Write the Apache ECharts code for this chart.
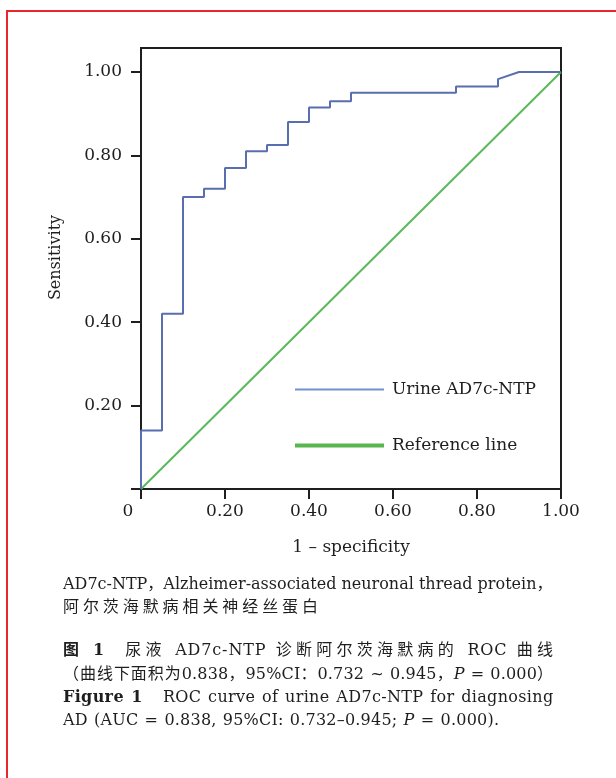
<!DOCTYPE html>
<html>
<head>
<meta charset="utf-8">
<script src="https://cdn.jsdelivr.net/npm/echarts@6/dist/echarts.min.js"></script>
<style>
html,body{margin:0;padding:0;background:#fff;}
#c{width:616px;height:778px;}
</style>
</head>
<body>
<div id="c"></div>
<script>
// ROC curve points (1 - specificity, sensitivity)
const rocX = [0, 0, 0.05, 0.05, 0.10, 0.10, 0.15, 0.15, 0.20, 0.20, 0.25, 0.25, 0.30, 0.30, 0.35, 0.35, 0.40, 0.40, 0.45, 0.45, 0.50, 0.50, 0.75, 0.75, 0.85, 0.85, 0.90, 1.00];
const rocY = [0, 0.14, 0.14, 0.42, 0.42, 0.70, 0.70, 0.72, 0.72, 0.77, 0.77, 0.81, 0.81, 0.825, 0.825, 0.88, 0.88, 0.915, 0.915, 0.93, 0.93, 0.95, 0.95, 0.965, 0.965, 0.983, 1.00, 1.00];
const refX = [0, 1];
const refY = [0, 1];
const xTicks = [0, 0.2, 0.4, 0.6, 0.8, 1.0];
const yTicks = [0.2, 0.4, 0.6, 0.8, 1.0];
const yTickMarks = [0, 0.2, 0.4, 0.6, 0.8, 1.0];
const seriesNames = ['Urine AD7c-NTP', 'Reference line'];
const axisNames = ['1 – specificity', 'Sensitivity'];
// caption lines as [style, text] segments (n = normal, b = bold, i = italic)
const captionLines = [
  [['n', 'AD7c-NTP，Alzheimer-associated neuronal thread protein，']],
  [['n', '阿尔茨海默病相关神经丝蛋白']],
  [['b', '图 1'], ['n', '　尿液 AD7c-NTP 诊断阿尔茨海默病的 ROC 曲线']],
  [['n', '（曲线下面积为0.838，95%CI：0.732 ~ 0.945，'], ['i', 'P'], ['n', ' = 0.000）']],
  [['b', 'Figure 1'], ['n', '   ROC curve of urine AD7c-NTP for diagnosing']],
  [['n', 'AD (AUC = 0.838, 95%CI: 0.732–0.945; '], ['i', 'P'], ['n', ' = 0.000).']]
];

const serif = '"DejaVu Serif", "Noto Sans CJK SC", serif';
const ink = '#1e1e1e';
const chart = echarts.init(document.getElementById('c'), null, {renderer: 'canvas'});

// caption layout (styling, not data)
const captionY = [585, 608, 651, 675, 698, 721];
const captionW = [487, 255, 490, 490, 490, 436];
const capSize = 16;
const capLeft = 63;
const mctx = document.createElement('canvas').getContext('2d');
function fontOf(s) {
  return (s === 'b' ? 'bold ' : '') + (s === 'i' ? 'italic ' : '') + capSize + 'px ' + serif;
}
function weightOf(ch) {
  return (ch === ' ' || ch.charCodeAt(0) > 0x2E80) ? 1 : 0.2;
}
function buildCaption(segs, idx) {
  const chars = [];
  segs.forEach(([s, t]) => { for (const ch of t) chars.push([s, ch]); });
  let natural = 0, wsum = 0;
  chars.forEach(([s, ch], k) => {
    mctx.font = fontOf(s);
    natural += mctx.measureText(ch).width;
    if (k < chars.length - 1) wsum += weightOf(ch);
  });
  const unit = Math.max(0, (captionW[idx] - natural) / Math.max(1, wsum));
  const rich = {};
  let str = '';
  chars.forEach(([s, ch], k) => {
    const pad = k < chars.length - 1 ? +(unit * weightOf(ch)).toFixed(2) : 0;
    const key = s + 'p' + String(pad).replace('.', '_');
    if (!rich[key]) {
      rich[key] = {fontFamily: serif, fontSize: capSize, fill: ink, color: ink,
        fontWeight: s === 'b' ? 'bold' : 'normal', fontStyle: s === 'i' ? 'italic' : 'normal',
        padding: [0, pad, 0, 0]};
    }
    str += '{' + key + '|' + ch + '}';
  });
  return {
    type: 'text', silent: true,
    style: {x: capLeft, y: captionY[idx], text: str, rich: rich,
      font: capSize + 'px ' + serif, fill: ink, verticalAlign: 'middle', align: 'left'}
  };
}
const captionGraphics = captionLines.map(buildCaption);

const option = {
  animation: false,
  backgroundColor: '#fff',
  grid: {
    left: 141, top: 48, width: 420, height: 441,
    show: true, borderColor: ink, borderWidth: 2, backgroundColor: 'transparent'
  },
  xAxis: {
    type: 'value', min: 0, max: 1,
    name: axisNames[0], nameLocation: 'middle', nameGap: 50,
    nameTextStyle: {fontFamily: serif, fontSize: 17, color: ink},
    axisLine: {show: true, lineStyle: {color: ink, width: 2}},
    axisTick: {show: true, length: 10, lineStyle: {color: ink, width: 2}, customValues: xTicks},
    splitLine: {show: false},
    axisLabel: {
      customValues: xTicks, margin: 14,
      fontFamily: serif, fontSize: 17, color: ink,
      formatter: v => v === 0 ? '{z|0}' : v.toFixed(2),
      rich: {z: {fontFamily: serif, fontSize: 17, color: ink, padding: [0, 26, 16, 0]}}
    }
  },
  yAxis: {
    type: 'value', min: 0, max: 1.0576,
    name: axisNames[1], nameLocation: 'middle', nameGap: 77,
    nameTextStyle: {fontFamily: serif, fontSize: 16, color: ink, padding: [0, 0, 0, 22]},
    axisLine: {show: true, lineStyle: {color: ink, width: 2}},
    axisTick: {show: true, length: 10, lineStyle: {color: ink, width: 2}, customValues: yTickMarks},
    splitLine: {show: false},
    axisLabel: {
      customValues: yTicks, margin: 19,
      fontFamily: serif, fontSize: 17, color: ink,
      formatter: v => v.toFixed(2)
    }
  },
  legend: [
    {
      data: [seriesNames[0]], left: 290, top: 376, icon: 'rect',
      itemWidth: 89, itemHeight: 2,
      itemStyle: {color: '#7391cf'},
      lineStyle: {color: '#7391cf', width: 2},
      textStyle: {fontFamily: serif, fontSize: 17, color: ink, padding: [0, 0, 0, 3]}
    },
    {
      data: [seriesNames[1]], left: 290, top: 432, icon: 'rect',
      itemWidth: 89, itemHeight: 4,
      itemStyle: {color: '#58b54f'},
      lineStyle: {color: '#58b54f', width: 4},
      textStyle: {fontFamily: serif, fontSize: 17, color: ink, padding: [0, 0, 0, 3]}
    }
  ],
  series: [
    {
      name: seriesNames[0], type: 'line', symbol: 'none',
      data: rocX.map((x, i) => [x, rocY[i]]),
      lineStyle: {color: '#586eae', width: 2},
      itemStyle: {color: '#586eae'}, z: 3
    },
    {
      name: seriesNames[1], type: 'line', symbol: 'none',
      data: refX.map((x, i) => [x, refY[i]]),
      lineStyle: {color: '#5cb85a', width: 2},
      itemStyle: {color: '#5cb85a'}, z: 2
    }
  ],
  graphic: [
    {
      type: 'rect', silent: true,
      shape: {x: 7, y: 11, width: 640, height: 800},
      style: {fill: 'none', stroke: '#e8262c', lineWidth: 2}
    }
  ].concat(captionGraphics)
};
chart.setOption(option);
</script>
</body>
</html>
